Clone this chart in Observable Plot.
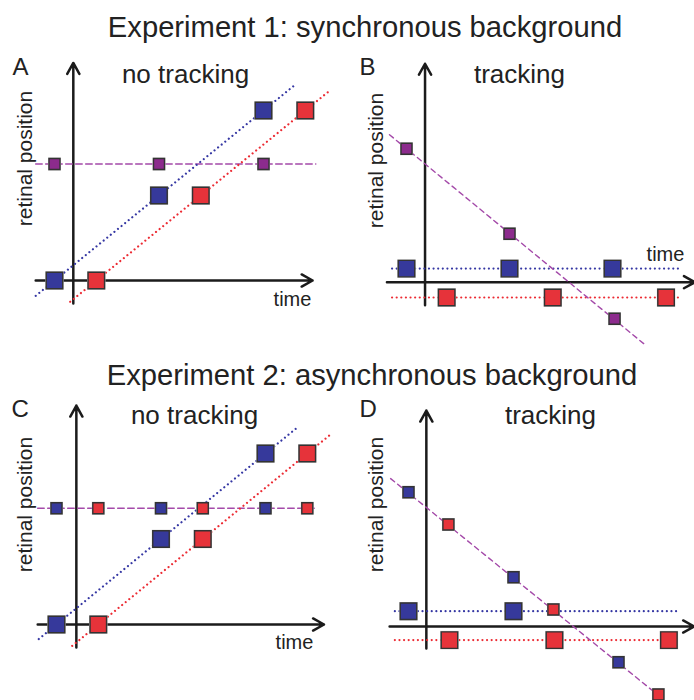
<!DOCTYPE html>
<html>
<head>
<meta charset="utf-8">
<script src="https://cdn.jsdelivr.net/npm/d3@7"></script>
<script src="https://cdn.jsdelivr.net/npm/@observablehq/plot@0.6"></script>
<style>
  html, body { margin: 0; padding: 0; background: #fff; }
  #root { position: relative; width: 694px; height: 700px; overflow: hidden; font-family: "Liberation Sans", Arial, Helvetica, sans-serif; color: #222; }
  .title { position: absolute; font-size: 29.2px; line-height: 29.2px; white-space: nowrap; transform: translateX(-50%); }
  svg { position: absolute; overflow: visible; }
</style>
</head>
<body>
<div id="root"></div>
<script>
// ---------- text ----------
const titles = ["Experiment 1: synchronous background", "Experiment 2: asynchronous background"];
const panelLetters = ["A", "B", "C", "D"];
const panelTitles = ["no tracking", "tracking", "no tracking", "tracking"];
const yLabel = "retinal position";
const xLabel = "time";

// ---------- data: [time (flash periods), retinal position] ----------
// Panel A – Experiment 1, no tracking
const aBlue = [[0, 0], [1, 1], [2, 2]];
const aRed = [[0.4, 0], [1.4, 1], [2.4, 2]];
const aBg = [[0, 1.37], [1, 1.37], [2, 1.37]];
const aBlueTrace = [[-0.18, -0.18], [2.29, 2.29]];
const aRedTrace = [[0.15, -0.25], [2.63, 2.23]];
const aBgTrace = [[-0.18, 1.37], [2.5, 1.37]];
const aTimeAxis = [-0.18, 2.47];
const aPosAxis = [-0.27, 2.56];
const aAxisCross = 0.18;

// Panel B – Experiment 1, tracking
const bBlue = [[0, 0.16], [1, 0.16], [2, 0.16]];
const bRed = [[0.39, -0.18], [1.42, -0.18], [2.52, -0.18]];
const bBg = [[0, 1.57], [1, 0.57], [2.02, -0.43]];
const bBlueTrace = [[-0.14, 0.16], [2.65, 0.16]];
const bRedTrace = [[-0.14, -0.18], [2.65, -0.18]];
const bBgTrace = [[-0.165, 1.735], [2.32, -0.74]];
const bTimeAxis = [-0.19, 2.8];
const bPosAxis = [-0.27, 2.57];
const bAxisCross = 0.18;

// Panel C – Experiment 2, no tracking
const cBlue = [[0, 0], [1, 1], [2, 2]];
const cRed = [[0.4, 0], [1.4, 1], [2.4, 2]];
const cBgBlue = [[0, 1.36], [1, 1.36], [2, 1.36]];
const cBgRed = [[0.4, 1.36], [1.4, 1.36], [2.4, 1.36]];
const cBlueTrace = [[-0.17, -0.17], [2.29, 2.29]];
const cRedTrace = [[0.15, -0.25], [2.62, 2.22]];
const cBgTrace = [[-0.18, 1.36], [2.48, 1.36]];
const cTimeAxis = [-0.18, 2.56];
const cPosAxis = [-0.27, 2.56];
const cAxisCross = 0.19;

// Panel D – Experiment 2, tracking
const dBlue = [[0, 0.18], [1, 0.18]];
const dRed = [[0.39, -0.16], [1.39, -0.16], [2.48, -0.16]];
const dBgBlue = [[0, 1.58], [1, 0.58], [2, -0.42]];
const dBgRed = [[0.38, 1.2], [1.38, 0.2], [2.38, -0.8]];
const dBlueTrace = [[-0.13, 0.18], [2.59, 0.18]];
const dRedTrace = [[-0.13, -0.16], [2.59, -0.16]];
const dBgTrace = [[-0.17, 1.74], [2.32, -0.75]];
const dTimeAxis = [-0.18, 2.72];
const dPosAxis = [-0.26, 2.54];
const dAxisCross = 0.17;

// ---------- styles ----------
const FONT = '"Liberation Sans", Arial, Helvetica, sans-serif';
const INK = "#222";
const BLUE = "#36399b", RED = "#e6333a", PURPLE = "#8c2b8d";
const BLUE_LINE = "#3537a3", RED_LINE = "#ec2b33", PURPLE_LINE = "#a44aa9";
const BIG = 9.3, SMALL = 6.2;

const root = document.getElementById("root");

// experiment titles
[[365, 13], [372, 361]].forEach(([cx, top], i) => {
  const d = document.createElement("div");
  d.className = "title";
  d.style.left = cx + "px";
  d.style.top = top + "px";
  d.textContent = titles[i];
  root.appendChild(d);
});

const pts = (arr) => arr.map(([t, pos]) => ({t, pos}));

function squares(arr, fill, r) {
  return [
    Plot.dot(pts(arr), {x: "t", y: "pos", symbol: "square", r: r + 1.1, fill: "#bdbdbd"}),
    Plot.dot(pts(arr), {x: "t", y: "pos", symbol: "square", r, fill, stroke: "#333", strokeWidth: 1.4})
  ];
}
function dotted(arr, stroke) {
  return Plot.line(pts(arr), {x: "t", y: "pos", stroke, strokeWidth: 2.2, strokeDasharray: "0.01 4.6", strokeLinecap: "round"});
}
function dashed(arr, dash, w) {
  return Plot.line(pts(arr), {x: "t", y: "pos", stroke: PURPLE_LINE, strokeWidth: w, strokeDasharray: dash});
}
function axes(tExt, posExt, cross) {
  const segs = [
    {x1: tExt[0], x2: tExt[1], y1: 0, y2: 0},
    {x1: cross, x2: cross, y1: posExt[0], y2: posExt[1]}
  ];
  return Plot.arrow(segs, {x1: "x1", y1: "y1", x2: "x2", y2: "y2", stroke: "#1b1b1b", strokeWidth: 2.5, headLength: 7.5, headAngle: 58});
}
function label(text, dx, dy, size, opts = {}) {
  return Plot.text([text], {frameAnchor: "top-left", dx, dy, fontSize: size, fill: INK, textAnchor: "middle", lineAnchor: "middle", ...opts});
}

function panel(L, marks) {
  const svg = Plot.plot({
    width: L.w, height: L.h, margin: 0,
    x: {type: "linear", domain: [0, 1], range: [L.x0 - L.left, L.x0 - L.left + L.ux], axis: null},
    y: {type: "linear", domain: [0, 1], range: [L.y0 - L.top, L.y0 - L.top - L.uy], axis: null},
    style: {background: "transparent", overflow: "visible", fontFamily: FONT},
    marks
  });
  svg.style.position = "absolute";
  svg.style.left = L.left + "px";
  svg.style.top = L.top + "px";
  root.appendChild(svg);
}

// Panel A
panel({left: 0, top: 50, w: 347, h: 300, x0: 54, ux: 104.5, y0: 280, uy: 85}, [
  axes(aTimeAxis, aPosAxis, aAxisCross),
  dashed(aBgTrace, "6.5 3.5", 1.5),
  dotted(aBlueTrace, BLUE_LINE),
  dotted(aRedTrace, RED_LINE),
  ...squares(aBg, PURPLE, SMALL),
  ...squares(aBlue, BLUE, BIG),
  ...squares(aRed, RED, BIG),
  label(panelLetters[0], 12, 16.5, 24, {textAnchor: "start"}),
  label(panelTitles[0], 185, 23.7, 26),
  label(yLabel, 25, 108, 21, {rotate: -90}),
  label(xLabel, 292, 248.6, 20)
]);

// Panel B
panel({left: 347, top: 50, w: 347, h: 310, x0: 406, ux: 103, y0: 281.7, uy: 85}, [
  axes(bTimeAxis, bPosAxis, bAxisCross),
  dotted(bBlueTrace, BLUE_LINE),
  dotted(bRedTrace, RED_LINE),
  dashed(bBgTrace, "5 4", 1.4),
  ...squares(bBg, PURPLE, SMALL),
  ...squares(bBlue, BLUE, BIG),
  ...squares(bRed, RED, BIG),
  label(panelLetters[1], 12, 16.5, 24, {textAnchor: "start"}),
  label(panelTitles[1], 172, 23.7, 26),
  label(yLabel, 29, 110, 21, {rotate: -90}),
  label(xLabel, 318, 203.6, 20)
]);

// Panel C
panel({left: 0, top: 390, w: 347, h: 310, x0: 56, ux: 104.5, y0: 624, uy: 85.5}, [
  axes(cTimeAxis, cPosAxis, cAxisCross),
  dashed(cBgTrace, "6.5 3.5", 1.5),
  dotted(cBlueTrace, BLUE_LINE),
  dotted(cRedTrace, RED_LINE),
  ...squares(cBgBlue, BLUE, SMALL),
  ...squares(cBgRed, RED, SMALL),
  ...squares(cBlue, BLUE, BIG),
  ...squares(cRed, RED, BIG),
  label(panelLetters[2], 11, 19, 24, {textAnchor: "start"}),
  label(panelTitles[2], 194, 24.7, 26),
  label(yLabel, 25, 114, 21, {rotate: -90}),
  label(xLabel, 294, 251.6, 20)
]);

// Panel D
panel({left: 347, top: 390, w: 347, h: 310, x0: 408, ux: 105, y0: 626, uy: 85}, [
  axes(dTimeAxis, dPosAxis, dAxisCross),
  dotted(dBlueTrace, BLUE_LINE),
  dotted(dRedTrace, RED_LINE),
  dashed(dBgTrace, "5 4", 1.4),
  ...squares(dBgBlue, BLUE, SMALL),
  ...squares(dBgRed, RED, SMALL),
  ...squares(dBlue, BLUE, BIG),
  ...squares(dRed, RED, BIG),
  label(panelLetters[3], 12, 19, 24, {textAnchor: "start"}),
  label(panelTitles[3], 203, 24.7, 26),
  label(yLabel, 29, 114, 21, {rotate: -90})
]);
</script>
</body>
</html>
